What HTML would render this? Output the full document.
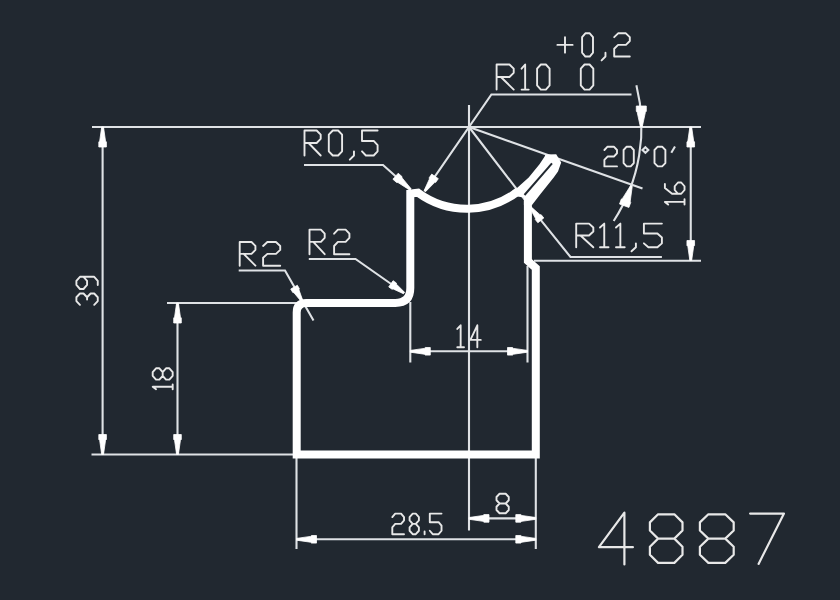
<!DOCTYPE html>
<html><head><meta charset="utf-8"><title>4887</title><style>html,body{margin:0;padding:0;background:#212830;width:840px;height:600px;overflow:hidden}svg{display:block}</style></head><body>
<svg width="840" height="600" viewBox="0 0 840 600">
<rect width="840" height="600" fill="#212830"/>
<g fill="none" stroke="#dfe2e5" stroke-width="2.1" stroke-linecap="butt" stroke-linejoin="miter">
<path d="M92,127H701"/>
<path d="M102.6,127V454.5"/>
<path d="M91.5,454.5H297"/>
<path d="M167,303H297"/>
<path d="M177.5,303V454.5"/>
<path d="M469,105V530.4"/>
<path d="M410.3,302V362.5"/>
<path d="M527.5,266V362.5"/>
<path d="M410.3,351.3H527.5"/>
<path d="M296.5,454V549"/>
<path d="M535.8,454V549"/>
<path d="M296.5,539.3H535.8"/>
<path d="M469,518.4H535.8"/>
<path d="M690.75,127V260.5"/>
<path d="M534,260.7H701"/>
<path d="M424.8,191.2L491.4,94.5H631.5"/>
<path d="M304,165H383L410.5,189.5"/>
<path d="M238.7,270.5H285L313.5,320.5"/>
<path d="M308.8,259H355.5L404,293"/>
<path d="M661.9,257H570.5L531.4,208.3L469,127"/>
<path d="M469,127L642.5,188.5"/>
<path d="M636.38,85.27A172.5,172.5 0 0 1 613.67,220.95"/>
<path d="M645.4,147.3L648.3,150L645.4,152.7L642.5,150Z"/>
<path d="M675,146.5L671.3,152.7"/>
</g>
<g fill="none" stroke="#e8e8e8" stroke-linecap="round" stroke-linejoin="round">
<path stroke-width="1.9" d="M557.40,44.91L572.60,44.91M565.00,37.17L565.00,52.65M585.37,33.30L589.72,33.30L592.99,37.17L592.99,52.65L589.72,56.52L585.37,56.52L582.10,52.65L582.10,37.17ZM605.47,52.65L605.47,56.52L601.60,60.39M614.20,37.17L618.10,33.30L625.90,33.30L629.80,37.17L629.80,41.04L625.90,44.91L618.10,44.91L614.20,48.78L614.20,56.52L629.80,56.52"/>
<path stroke-width="1.9" d="M496.60,89.58L496.60,64.50L509.44,64.50L513.72,68.68L513.72,72.86L509.44,77.04L496.60,77.04M500.88,77.04L513.72,89.58M521.60,68.68L525.15,64.50L525.15,89.58M521.60,89.58L528.70,89.58M540.85,64.50L545.86,64.50L549.61,68.68L549.61,85.40L545.86,89.58L540.85,89.58L537.10,85.40L537.10,68.68ZM584.55,64.50L589.56,64.50L593.31,68.68L593.31,85.40L589.56,89.58L584.55,89.58L580.80,85.40L580.80,68.68Z"/>
<path stroke-width="1.9" d="M304.50,155.52L304.50,130.50L316.65,130.50L320.70,134.67L320.70,138.84L316.65,143.01L304.50,143.01M308.55,143.01L320.70,155.52M332.79,130.50L338.10,130.50L342.09,134.67L342.09,151.35L338.10,155.52L332.79,155.52L328.80,151.35L328.80,134.67ZM353.97,151.35L353.97,155.52L349.80,159.69M377.60,130.50L362.00,130.50L362.00,140.93L373.70,140.93L377.60,145.09L377.60,151.35L373.70,155.52L365.90,155.52L362.00,151.35"/>
<path stroke-width="1.9" d="M604.40,149.98L607.55,146.70L613.85,146.70L617.00,149.98L617.00,153.26L613.85,156.54L607.55,156.54L604.40,159.82L604.40,166.38L617.00,166.38M626.66,146.70L630.74,146.70L633.80,149.98L633.80,163.10L630.74,166.38L626.66,166.38L623.60,163.10L623.60,149.98ZM657.77,146.70L662.12,146.70L665.39,149.98L665.39,163.10L662.12,166.38L657.77,166.38L654.50,163.10L654.50,149.98Z"/>
<path stroke-width="1.9" d="M576.20,247.30L576.20,223.60L589.04,223.60L593.32,227.55L593.32,231.50L589.04,235.45L576.20,235.45M580.48,235.45L593.32,247.30M600.00,227.55L604.25,223.60L604.25,247.30M600.00,247.30L608.50,247.30M616.00,227.55L620.35,223.60L620.35,247.30M616.00,247.30L624.70,247.30M635.90,243.35L635.90,247.30L631.50,251.25M661.90,223.60L643.90,223.60L643.90,233.47L657.40,233.47L661.90,237.42L661.90,243.35L657.40,247.30L648.40,247.30L643.90,243.35"/>
<path stroke-width="1.9" d="M239.70,265.70L239.70,242.00L251.49,242.00L255.42,245.95L255.42,249.90L251.49,253.85L239.70,253.85M243.63,253.85L255.42,265.70M263.10,245.95L267.38,242.00L275.94,242.00L280.22,245.95L280.22,249.90L275.94,253.85L267.38,253.85L263.10,257.80L263.10,265.70L280.22,265.70"/>
<path stroke-width="1.9" d="M309.50,254.20L309.50,229.60L320.90,229.60L324.70,233.70L324.70,237.80L320.90,241.90L309.50,241.90M313.30,241.90L324.70,254.20M334.10,233.70L337.93,229.60L345.59,229.60L349.42,233.70L349.42,237.80L345.59,241.90L337.93,241.90L334.10,246.00L334.10,254.20L349.42,254.20"/>
<path stroke-width="1.9" d="M457.30,328.95L460.65,325.30L460.65,347.20M457.30,347.20L464.00,347.20M477.32,347.20L477.32,325.30L470.40,339.90L480.78,339.90"/>
<path stroke-width="1.9" d="M392.30,517.03L395.23,513.60L401.09,513.60L404.02,517.03L404.02,520.46L401.09,523.89L395.23,523.89L392.30,527.32L392.30,534.18L404.02,534.18M412.70,513.60L415.80,513.60L418.90,517.03L418.90,520.46L415.80,523.89L412.70,523.89L409.60,520.46L409.60,517.03ZM412.70,523.89L415.80,523.89L418.90,527.32L418.90,530.75L415.80,534.18L412.70,534.18L409.60,530.75L409.60,527.32ZM424.60,531.44L424.60,534.18M441.52,513.60L429.80,513.60L429.80,522.18L438.59,522.18L441.52,525.61L441.52,530.75L438.59,534.18L432.73,534.18L429.80,530.75"/>
<path stroke-width="1.9" d="M499.56,493.75L505.68,493.75L508.74,497.00L508.74,500.25L505.68,503.50L499.56,503.50L496.50,500.25L496.50,497.00ZM499.56,503.50L505.68,503.50L508.74,506.75L508.74,510.00L505.68,513.25L499.56,513.25L496.50,510.00L496.50,506.75Z"/>
<path stroke-width="2.2" d="M624.40,564.48L624.40,512.70L598.90,547.22L632.90,547.22"/>
<path stroke-width="2.2" d="M658.05,514.30L674.35,514.30L682.50,522.40L682.50,530.50L674.35,538.60L658.05,538.60L649.90,530.50L649.90,522.40ZM658.05,538.60L674.35,538.60L682.50,546.70L682.50,554.80L674.35,562.90L658.05,562.90L649.90,554.80L649.90,546.70ZM708.35,514.30L725.25,514.30L733.70,522.40L733.70,530.50L725.25,538.60L708.35,538.60L699.90,530.50L699.90,522.40ZM708.35,538.60L725.25,538.60L733.70,546.70L733.70,554.80L725.25,562.90L708.35,562.90L699.90,554.80L699.90,546.70Z"/>
<path stroke-width="2.2" d="M750.10,513.60L783.98,513.60L758.57,563.88"/>
<path stroke-width="1.9" d="M668.17,204.60L664.90,201.90L684.52,201.90M684.52,204.60L684.52,199.20M664.90,184.00L664.90,188.12L672.09,193.75L681.25,193.75L684.52,190.00L684.52,186.25L681.25,182.50L677.98,182.50L674.71,186.25L674.71,190.00L677.98,193.75"/>
<path stroke-width="1.9" d="M79.96,304.80L76.40,301.03L76.40,297.26L79.96,293.49L83.52,293.49L87.08,297.26L90.64,293.49L94.20,293.49L97.76,297.26L97.76,301.03L94.20,304.80M87.08,299.52L87.08,297.26M83.52,276.79L87.08,280.86L87.08,284.93L83.52,289.00L79.96,289.00L76.40,284.93L76.40,280.86L79.96,276.79L94.20,276.79L97.76,280.86L97.76,284.93"/>
<path stroke-width="1.9" d="M156.03,389.20L152.70,386.80L172.68,386.80M172.68,389.20L172.68,384.40M152.70,375.83L152.70,372.06L156.03,368.29L159.36,368.29L162.69,372.06L162.69,375.83L159.36,379.60L156.03,379.60ZM162.69,375.83L162.69,372.06L166.02,368.29L169.35,368.29L172.68,372.06L172.68,375.83L169.35,379.60L166.02,379.60Z"/>
</g>
<g fill="#ffffff" stroke="#ffffff" stroke-width="0.8">
<path d="M103.50,127.00L105.50,141.00L106.40,142.00L106.40,147.00L98.80,147.00L98.80,142.00L99.70,141.00L101.70,127.00Z"/>
<path d="M101.70,454.50L99.70,440.50L98.80,439.50L98.80,434.50L106.40,434.50L106.40,439.50L105.50,440.50L103.50,454.50Z"/>
<path d="M178.40,303.00L180.40,317.00L181.30,318.00L181.30,323.00L173.70,323.00L173.70,318.00L174.60,317.00L176.60,303.00Z"/>
<path d="M176.60,454.50L174.60,440.50L173.70,439.50L173.70,434.50L181.30,434.50L181.30,439.50L180.40,440.50L178.40,454.50Z"/>
<path d="M410.30,350.40L424.30,348.40L425.30,347.50L430.30,347.50L430.30,355.10L425.30,355.10L424.30,354.20L410.30,352.20Z"/>
<path d="M527.50,352.20L513.50,354.20L512.50,355.10L507.50,355.10L507.50,347.50L512.50,347.50L513.50,348.40L527.50,350.40Z"/>
<path d="M296.50,538.40L310.50,536.40L311.50,535.50L316.50,535.50L316.50,543.10L311.50,543.10L310.50,542.20L296.50,540.20Z"/>
<path d="M535.80,540.20L521.80,542.20L520.80,543.10L515.80,543.10L515.80,535.50L520.80,535.50L521.80,536.40L535.80,538.40Z"/>
<path d="M469.00,517.50L483.00,515.50L484.00,514.60L489.00,514.60L489.00,522.20L484.00,522.20L483.00,521.30L469.00,519.30Z"/>
<path d="M535.80,519.30L521.80,521.30L520.80,522.20L515.80,522.20L515.80,514.60L520.80,514.60L521.80,515.50L535.80,517.50Z"/>
<path d="M691.65,127.00L693.65,141.00L694.55,142.00L694.55,147.00L686.95,147.00L686.95,142.00L687.85,141.00L689.85,127.00Z"/>
<path d="M689.85,260.50L687.85,246.50L686.95,245.50L686.95,240.50L694.55,240.50L694.55,245.50L693.65,246.50L691.65,260.50Z"/>
<path d="M424.06,190.69L429.40,179.07L429.17,177.81L431.72,174.11L438.31,178.65L435.75,182.35L434.50,182.58L425.54,191.71Z"/>
<path d="M409.90,190.17L397.98,182.52L396.63,182.52L392.89,179.20L398.21,173.22L401.95,176.54L402.10,177.88L411.10,188.83Z"/>
<path d="M301.22,301.45L293.93,292.71L292.75,292.47L290.76,288.99L297.36,285.22L299.35,288.70L298.96,289.84L302.78,300.55Z"/>
<path d="M403.48,293.74L393.16,288.95L391.99,289.22L388.72,286.93L393.08,280.70L396.36,283.00L396.49,284.20L404.52,292.26Z"/>
<path d="M531.20,206.94L539.99,214.69L541.21,214.77L543.79,217.99L537.87,222.75L535.28,219.53L535.47,218.32L529.80,208.06Z"/>
<path d="M640.40,127.00L637.20,112.30L636.30,111.25L636.30,106.00L646.30,106.00L646.30,111.25L645.40,112.30L642.20,127.00Z"/>
<path d="M632.25,186.31L630.23,201.22L630.71,202.51L628.92,207.44L619.52,204.02L621.32,199.09L622.52,198.41L630.55,185.69Z"/>
</g>
<path d="M518.1,191.24A83.19,83.19 0 0 1 418,192.72L410.3,193.5V288Q410.3,302.9 395.3,302.9H306.2Q296.7,302.9 296.7,312.4V454.4H535.8V268L527.9,261V201" fill="none" stroke="#ffffff" stroke-width="8" stroke-linejoin="miter" stroke-miterlimit="1.5"/>
<path d="M512.5,190.5L517,187.9L528.7,177.5L539.5,164.2L544.5,156.7L545.5,154.4L556.2,154.3L561.2,162.5L558,171.5L553.7,177.5L540.5,194L532,205L523.9,205L523.9,197.5L514,196Z" fill="#ffffff"/>
<path d="M524.5,195L552,163.3" stroke="#212830" stroke-width="2.0" fill="none"/>
</svg>
</body></html>
